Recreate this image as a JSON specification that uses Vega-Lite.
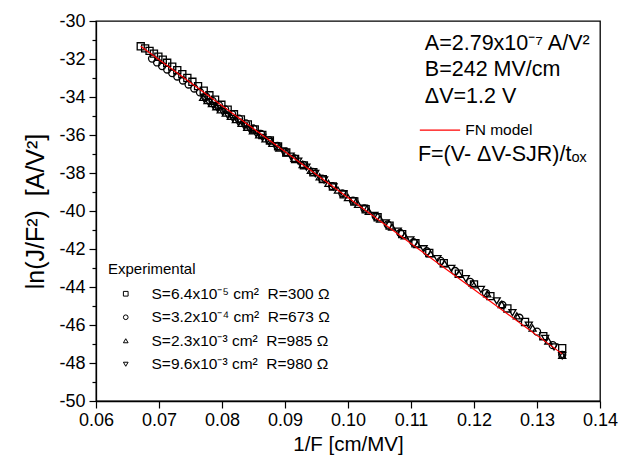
{
  "$schema": "https://vega.github.io/schema/vega-lite/v6.json",
  "width": 504,
  "height": 380,
  "autosize": "none",
  "padding": {"left": 96, "top": 21, "right": 19, "bottom": 56},
  "background": "white",
  "config": {
    "font": "Liberation Sans",
    "view": {"stroke": "black", "strokeWidth": 1.3},
    "axis": {
      "domainColor": "black",
      "domainWidth": 1.3,
      "tickColor": "black",
      "tickWidth": 1.2,
      "grid": false,
      "labelFont": "Liberation Sans",
      "labelFontSize": 18,
      "labelColor": "black",
      "labelOverlap": false,
      "titleFont": "Liberation Sans",
      "titleFontWeight": "normal",
      "titleColor": "black"
    }
  },
  "resolve": {"axis": {"y": "independent"}},
  "datasets": {
    "meas": [
      {"x": 0.0671, "y": -31.33, "s": "S=6.4x10⁻⁵ cm² \u00a0R=300 Ω"},
      {"x": 0.0678, "y": -31.44, "s": "S=6.4x10⁻⁵ cm² \u00a0R=300 Ω"},
      {"x": 0.0685, "y": -31.57, "s": "S=6.4x10⁻⁵ cm² \u00a0R=300 Ω"},
      {"x": 0.0692, "y": -31.72, "s": "S=6.4x10⁻⁵ cm² \u00a0R=300 Ω"},
      {"x": 0.0699, "y": -31.88, "s": "S=6.4x10⁻⁵ cm² \u00a0R=300 Ω"},
      {"x": 0.0706, "y": -32.04, "s": "S=6.4x10⁻⁵ cm² \u00a0R=300 Ω"},
      {"x": 0.0713, "y": -32.20, "s": "S=6.4x10⁻⁵ cm² \u00a0R=300 Ω"},
      {"x": 0.0721, "y": -32.40, "s": "S=6.4x10⁻⁵ cm² \u00a0R=300 Ω"},
      {"x": 0.0729, "y": -32.59, "s": "S=6.4x10⁻⁵ cm² \u00a0R=300 Ω"},
      {"x": 0.0737, "y": -32.80, "s": "S=6.4x10⁻⁵ cm² \u00a0R=300 Ω"},
      {"x": 0.0745, "y": -33.00, "s": "S=6.4x10⁻⁵ cm² \u00a0R=300 Ω"},
      {"x": 0.0753, "y": -33.20, "s": "S=6.4x10⁻⁵ cm² \u00a0R=300 Ω"},
      {"x": 0.0762, "y": -33.43, "s": "S=6.4x10⁻⁵ cm² \u00a0R=300 Ω"},
      {"x": 0.0771, "y": -33.67, "s": "S=6.4x10⁻⁵ cm² \u00a0R=300 Ω"},
      {"x": 0.0780, "y": -33.91, "s": "S=6.4x10⁻⁵ cm² \u00a0R=300 Ω"},
      {"x": 0.0789, "y": -34.14, "s": "S=6.4x10⁻⁵ cm² \u00a0R=300 Ω"},
      {"x": 0.0799, "y": -34.41, "s": "S=6.4x10⁻⁵ cm² \u00a0R=300 Ω"},
      {"x": 0.0809, "y": -34.67, "s": "S=6.4x10⁻⁵ cm² \u00a0R=300 Ω"},
      {"x": 0.0819, "y": -34.91, "s": "S=6.4x10⁻⁵ cm² \u00a0R=300 Ω"},
      {"x": 0.0830, "y": -35.18, "s": "S=6.4x10⁻⁵ cm² \u00a0R=300 Ω"},
      {"x": 0.0841, "y": -35.44, "s": "S=6.4x10⁻⁵ cm² \u00a0R=300 Ω"},
      {"x": 0.0852, "y": -35.71, "s": "S=6.4x10⁻⁵ cm² \u00a0R=300 Ω"},
      {"x": 0.0864, "y": -36.00, "s": "S=6.4x10⁻⁵ cm² \u00a0R=300 Ω"},
      {"x": 0.0876, "y": -36.29, "s": "S=6.4x10⁻⁵ cm² \u00a0R=300 Ω"},
      {"x": 0.0889, "y": -36.60, "s": "S=6.4x10⁻⁵ cm² \u00a0R=300 Ω"},
      {"x": 0.0902, "y": -36.92, "s": "S=6.4x10⁻⁵ cm² \u00a0R=300 Ω"},
      {"x": 0.0916, "y": -37.26, "s": "S=6.4x10⁻⁵ cm² \u00a0R=300 Ω"},
      {"x": 0.0930, "y": -37.60, "s": "S=6.4x10⁻⁵ cm² \u00a0R=300 Ω"},
      {"x": 0.0945, "y": -37.96, "s": "S=6.4x10⁻⁵ cm² \u00a0R=300 Ω"},
      {"x": 0.0960, "y": -38.32, "s": "S=6.4x10⁻⁵ cm² \u00a0R=300 Ω"},
      {"x": 0.0976, "y": -38.71, "s": "S=6.4x10⁻⁵ cm² \u00a0R=300 Ω"},
      {"x": 0.0993, "y": -39.12, "s": "S=6.4x10⁻⁵ cm² \u00a0R=300 Ω"},
      {"x": 0.1010, "y": -39.50, "s": "S=6.4x10⁻⁵ cm² \u00a0R=300 Ω"},
      {"x": 0.1028, "y": -39.91, "s": "S=6.4x10⁻⁵ cm² \u00a0R=300 Ω"},
      {"x": 0.1047, "y": -40.33, "s": "S=6.4x10⁻⁵ cm² \u00a0R=300 Ω"},
      {"x": 0.1066, "y": -40.77, "s": "S=6.4x10⁻⁵ cm² \u00a0R=300 Ω"},
      {"x": 0.1086, "y": -41.22, "s": "S=6.4x10⁻⁵ cm² \u00a0R=300 Ω"},
      {"x": 0.1107, "y": -41.70, "s": "S=6.4x10⁻⁵ cm² \u00a0R=300 Ω"},
      {"x": 0.1129, "y": -42.21, "s": "S=6.4x10⁻⁵ cm² \u00a0R=300 Ω"},
      {"x": 0.1152, "y": -42.75, "s": "S=6.4x10⁻⁵ cm² \u00a0R=300 Ω"},
      {"x": 0.1176, "y": -43.30, "s": "S=6.4x10⁻⁵ cm² \u00a0R=300 Ω"},
      {"x": 0.1200, "y": -43.86, "s": "S=6.4x10⁻⁵ cm² \u00a0R=300 Ω"},
      {"x": 0.1226, "y": -44.48, "s": "S=6.4x10⁻⁵ cm² \u00a0R=300 Ω"},
      {"x": 0.1253, "y": -45.13, "s": "S=6.4x10⁻⁵ cm² \u00a0R=300 Ω"},
      {"x": 0.1281, "y": -45.84, "s": "S=6.4x10⁻⁵ cm² \u00a0R=300 Ω"},
      {"x": 0.1310, "y": -46.59, "s": "S=6.4x10⁻⁵ cm² \u00a0R=300 Ω"},
      {"x": 0.1340, "y": -47.22, "s": "S=6.4x10⁻⁵ cm² \u00a0R=300 Ω"},

      {"x": 0.0689, "y": -31.98, "s": "S=3.2x10⁻⁴ cm² \u00a0R=673 Ω"},
      {"x": 0.0697, "y": -32.18, "s": "S=3.2x10⁻⁴ cm² \u00a0R=673 Ω"},
      {"x": 0.0705, "y": -32.37, "s": "S=3.2x10⁻⁴ cm² \u00a0R=673 Ω"},
      {"x": 0.0713, "y": -32.55, "s": "S=3.2x10⁻⁴ cm² \u00a0R=673 Ω"},
      {"x": 0.0721, "y": -32.74, "s": "S=3.2x10⁻⁴ cm² \u00a0R=673 Ω"},
      {"x": 0.0729, "y": -32.92, "s": "S=3.2x10⁻⁴ cm² \u00a0R=673 Ω"},
      {"x": 0.0738, "y": -33.13, "s": "S=3.2x10⁻⁴ cm² \u00a0R=673 Ω"},
      {"x": 0.0747, "y": -33.34, "s": "S=3.2x10⁻⁴ cm² \u00a0R=673 Ω"},
      {"x": 0.0756, "y": -33.55, "s": "S=3.2x10⁻⁴ cm² \u00a0R=673 Ω"},
      {"x": 0.0765, "y": -33.75, "s": "S=3.2x10⁻⁴ cm² \u00a0R=673 Ω"},
      {"x": 0.0775, "y": -33.99, "s": "S=3.2x10⁻⁴ cm² \u00a0R=673 Ω"},
      {"x": 0.0785, "y": -34.21, "s": "S=3.2x10⁻⁴ cm² \u00a0R=673 Ω"},
      {"x": 0.0795, "y": -34.43, "s": "S=3.2x10⁻⁴ cm² \u00a0R=673 Ω"},
      {"x": 0.0805, "y": -34.65, "s": "S=3.2x10⁻⁴ cm² \u00a0R=673 Ω"},
      {"x": 0.0816, "y": -34.90, "s": "S=3.2x10⁻⁴ cm² \u00a0R=673 Ω"},
      {"x": 0.0827, "y": -35.14, "s": "S=3.2x10⁻⁴ cm² \u00a0R=673 Ω"},
      {"x": 0.0838, "y": -35.39, "s": "S=3.2x10⁻⁴ cm² \u00a0R=673 Ω"},
      {"x": 0.0850, "y": -35.66, "s": "S=3.2x10⁻⁴ cm² \u00a0R=673 Ω"},
      {"x": 0.0862, "y": -35.95, "s": "S=3.2x10⁻⁴ cm² \u00a0R=673 Ω"},
      {"x": 0.0875, "y": -36.27, "s": "S=3.2x10⁻⁴ cm² \u00a0R=673 Ω"},
      {"x": 0.0888, "y": -36.58, "s": "S=3.2x10⁻⁴ cm² \u00a0R=673 Ω"},
      {"x": 0.0901, "y": -36.89, "s": "S=3.2x10⁻⁴ cm² \u00a0R=673 Ω"},
      {"x": 0.0915, "y": -37.23, "s": "S=3.2x10⁻⁴ cm² \u00a0R=673 Ω"},
      {"x": 0.0929, "y": -37.57, "s": "S=3.2x10⁻⁴ cm² \u00a0R=673 Ω"},
      {"x": 0.0944, "y": -37.94, "s": "S=3.2x10⁻⁴ cm² \u00a0R=673 Ω"},
      {"x": 0.0959, "y": -38.30, "s": "S=3.2x10⁻⁴ cm² \u00a0R=673 Ω"},
      {"x": 0.0975, "y": -38.69, "s": "S=3.2x10⁻⁴ cm² \u00a0R=673 Ω"},
      {"x": 0.0991, "y": -39.07, "s": "S=3.2x10⁻⁴ cm² \u00a0R=673 Ω"},
      {"x": 0.1008, "y": -39.46, "s": "S=3.2x10⁻⁴ cm² \u00a0R=673 Ω"},
      {"x": 0.1026, "y": -39.87, "s": "S=3.2x10⁻⁴ cm² \u00a0R=673 Ω"},
      {"x": 0.1044, "y": -40.28, "s": "S=3.2x10⁻⁴ cm² \u00a0R=673 Ω"},
      {"x": 0.1063, "y": -40.71, "s": "S=3.2x10⁻⁴ cm² \u00a0R=673 Ω"},
      {"x": 0.1083, "y": -41.16, "s": "S=3.2x10⁻⁴ cm² \u00a0R=673 Ω"},
      {"x": 0.1104, "y": -41.64, "s": "S=3.2x10⁻⁴ cm² \u00a0R=673 Ω"},
      {"x": 0.1125, "y": -42.12, "s": "S=3.2x10⁻⁴ cm² \u00a0R=673 Ω"},
      {"x": 0.1147, "y": -42.63, "s": "S=3.2x10⁻⁴ cm² \u00a0R=673 Ω"},
      {"x": 0.1170, "y": -43.16, "s": "S=3.2x10⁻⁴ cm² \u00a0R=673 Ω"},
      {"x": 0.1194, "y": -43.73, "s": "S=3.2x10⁻⁴ cm² \u00a0R=673 Ω"},
      {"x": 0.1219, "y": -44.32, "s": "S=3.2x10⁻⁴ cm² \u00a0R=673 Ω"},
      {"x": 0.1245, "y": -44.95, "s": "S=3.2x10⁻⁴ cm² \u00a0R=673 Ω"},
      {"x": 0.1272, "y": -45.62, "s": "S=3.2x10⁻⁴ cm² \u00a0R=673 Ω"},
      {"x": 0.1300, "y": -46.35, "s": "S=3.2x10⁻⁴ cm² \u00a0R=673 Ω"},
      {"x": 0.1325, "y": -47.06, "s": "S=3.2x10⁻⁴ cm² \u00a0R=673 Ω"},
      {"x": 0.1340, "y": -47.57, "s": "S=3.2x10⁻⁴ cm² \u00a0R=673 Ω"},

      {"x": 0.0770, "y": -34.02, "s": "S=2.3x10⁻³ cm² \u00a0R=985 Ω"},
      {"x": 0.0777, "y": -34.19, "s": "S=2.3x10⁻³ cm² \u00a0R=985 Ω"},
      {"x": 0.0784, "y": -34.35, "s": "S=2.3x10⁻³ cm² \u00a0R=985 Ω"},
      {"x": 0.0791, "y": -34.51, "s": "S=2.3x10⁻³ cm² \u00a0R=985 Ω"},
      {"x": 0.0798, "y": -34.67, "s": "S=2.3x10⁻³ cm² \u00a0R=985 Ω"},
      {"x": 0.0806, "y": -34.85, "s": "S=2.3x10⁻³ cm² \u00a0R=985 Ω"},
      {"x": 0.0814, "y": -35.02, "s": "S=2.3x10⁻³ cm² \u00a0R=985 Ω"},
      {"x": 0.0822, "y": -35.19, "s": "S=2.3x10⁻³ cm² \u00a0R=985 Ω"},
      {"x": 0.0831, "y": -35.39, "s": "S=2.3x10⁻³ cm² \u00a0R=985 Ω"},
      {"x": 0.0840, "y": -35.59, "s": "S=2.3x10⁻³ cm² \u00a0R=985 Ω"},
      {"x": 0.0849, "y": -35.78, "s": "S=2.3x10⁻³ cm² \u00a0R=985 Ω"},
      {"x": 0.0859, "y": -35.99, "s": "S=2.3x10⁻³ cm² \u00a0R=985 Ω"},
      {"x": 0.0869, "y": -36.20, "s": "S=2.3x10⁻³ cm² \u00a0R=985 Ω"},
      {"x": 0.0880, "y": -36.44, "s": "S=2.3x10⁻³ cm² \u00a0R=985 Ω"},
      {"x": 0.0891, "y": -36.68, "s": "S=2.3x10⁻³ cm² \u00a0R=985 Ω"},
      {"x": 0.0903, "y": -36.94, "s": "S=2.3x10⁻³ cm² \u00a0R=985 Ω"},
      {"x": 0.0915, "y": -37.23, "s": "S=2.3x10⁻³ cm² \u00a0R=985 Ω"},
      {"x": 0.0928, "y": -37.55, "s": "S=2.3x10⁻³ cm² \u00a0R=985 Ω"},
      {"x": 0.0941, "y": -37.86, "s": "S=2.3x10⁻³ cm² \u00a0R=985 Ω"},
      {"x": 0.0955, "y": -38.20, "s": "S=2.3x10⁻³ cm² \u00a0R=985 Ω"},
      {"x": 0.0969, "y": -38.54, "s": "S=2.3x10⁻³ cm² \u00a0R=985 Ω"},
      {"x": 0.0984, "y": -38.90, "s": "S=2.3x10⁻³ cm² \u00a0R=985 Ω"},
      {"x": 0.1000, "y": -39.29, "s": "S=2.3x10⁻³ cm² \u00a0R=985 Ω"},
      {"x": 0.1016, "y": -39.65, "s": "S=2.3x10⁻³ cm² \u00a0R=985 Ω"},
      {"x": 0.1033, "y": -40.02, "s": "S=2.3x10⁻³ cm² \u00a0R=985 Ω"},
      {"x": 0.1051, "y": -40.42, "s": "S=2.3x10⁻³ cm² \u00a0R=985 Ω"},
      {"x": 0.1070, "y": -40.85, "s": "S=2.3x10⁻³ cm² \u00a0R=985 Ω"},
      {"x": 0.1090, "y": -41.31, "s": "S=2.3x10⁻³ cm² \u00a0R=985 Ω"},
      {"x": 0.1110, "y": -41.76, "s": "S=2.3x10⁻³ cm² \u00a0R=985 Ω"},
      {"x": 0.1131, "y": -42.25, "s": "S=2.3x10⁻³ cm² \u00a0R=985 Ω"},
      {"x": 0.1153, "y": -42.76, "s": "S=2.3x10⁻³ cm² \u00a0R=985 Ω"},
      {"x": 0.1176, "y": -43.30, "s": "S=2.3x10⁻³ cm² \u00a0R=985 Ω"},
      {"x": 0.1198, "y": -43.81, "s": "S=2.3x10⁻³ cm² \u00a0R=985 Ω"},
      {"x": 0.1221, "y": -44.36, "s": "S=2.3x10⁻³ cm² \u00a0R=985 Ω"},
      {"x": 0.1244, "y": -44.92, "s": "S=2.3x10⁻³ cm² \u00a0R=985 Ω"},
      {"x": 0.1268, "y": -45.52, "s": "S=2.3x10⁻³ cm² \u00a0R=985 Ω"},
      {"x": 0.1293, "y": -46.16, "s": "S=2.3x10⁻³ cm² \u00a0R=985 Ω"},
      {"x": 0.1318, "y": -46.84, "s": "S=2.3x10⁻³ cm² \u00a0R=985 Ω"},
      {"x": 0.1340, "y": -47.60, "s": "S=2.3x10⁻³ cm² \u00a0R=985 Ω"},

      {"x": 0.0772, "y": -34.12, "s": "S=9.6x10⁻³ cm² \u00a0R=980 Ω"},
      {"x": 0.0779, "y": -34.29, "s": "S=9.6x10⁻³ cm² \u00a0R=980 Ω"},
      {"x": 0.0786, "y": -34.45, "s": "S=9.6x10⁻³ cm² \u00a0R=980 Ω"},
      {"x": 0.0793, "y": -34.61, "s": "S=9.6x10⁻³ cm² \u00a0R=980 Ω"},
      {"x": 0.0801, "y": -34.78, "s": "S=9.6x10⁻³ cm² \u00a0R=980 Ω"},
      {"x": 0.0809, "y": -34.96, "s": "S=9.6x10⁻³ cm² \u00a0R=980 Ω"},
      {"x": 0.0817, "y": -35.13, "s": "S=9.6x10⁻³ cm² \u00a0R=980 Ω"},
      {"x": 0.0826, "y": -35.33, "s": "S=9.6x10⁻³ cm² \u00a0R=980 Ω"},
      {"x": 0.0835, "y": -35.52, "s": "S=9.6x10⁻³ cm² \u00a0R=980 Ω"},
      {"x": 0.0844, "y": -35.71, "s": "S=9.6x10⁻³ cm² \u00a0R=980 Ω"},
      {"x": 0.0854, "y": -35.92, "s": "S=9.6x10⁻³ cm² \u00a0R=980 Ω"},
      {"x": 0.0864, "y": -36.13, "s": "S=9.6x10⁻³ cm² \u00a0R=980 Ω"},
      {"x": 0.0874, "y": -36.34, "s": "S=9.6x10⁻³ cm² \u00a0R=980 Ω"},
      {"x": 0.0885, "y": -36.58, "s": "S=9.6x10⁻³ cm² \u00a0R=980 Ω"},
      {"x": 0.0897, "y": -36.84, "s": "S=9.6x10⁻³ cm² \u00a0R=980 Ω"},
      {"x": 0.0909, "y": -37.11, "s": "S=9.6x10⁻³ cm² \u00a0R=980 Ω"},
      {"x": 0.0921, "y": -37.38, "s": "S=9.6x10⁻³ cm² \u00a0R=980 Ω"},
      {"x": 0.0934, "y": -37.69, "s": "S=9.6x10⁻³ cm² \u00a0R=980 Ω"},
      {"x": 0.0948, "y": -38.03, "s": "S=9.6x10⁻³ cm² \u00a0R=980 Ω"},
      {"x": 0.0962, "y": -38.37, "s": "S=9.6x10⁻³ cm² \u00a0R=980 Ω"},
      {"x": 0.0977, "y": -38.73, "s": "S=9.6x10⁻³ cm² \u00a0R=980 Ω"},
      {"x": 0.0992, "y": -39.10, "s": "S=9.6x10⁻³ cm² \u00a0R=980 Ω"},
      {"x": 0.1008, "y": -39.46, "s": "S=9.6x10⁻³ cm² \u00a0R=980 Ω"},
      {"x": 0.1025, "y": -39.85, "s": "S=9.6x10⁻³ cm² \u00a0R=980 Ω"},
      {"x": 0.1042, "y": -40.23, "s": "S=9.6x10⁻³ cm² \u00a0R=980 Ω"},
      {"x": 0.1060, "y": -40.63, "s": "S=9.6x10⁻³ cm² \u00a0R=980 Ω"},
      {"x": 0.1079, "y": -41.06, "s": "S=9.6x10⁻³ cm² \u00a0R=980 Ω"},
      {"x": 0.1099, "y": -41.52, "s": "S=9.6x10⁻³ cm² \u00a0R=980 Ω"},
      {"x": 0.1120, "y": -41.99, "s": "S=9.6x10⁻³ cm² \u00a0R=980 Ω"},
      {"x": 0.1142, "y": -42.51, "s": "S=9.6x10⁻³ cm² \u00a0R=980 Ω"},
      {"x": 0.1164, "y": -43.02, "s": "S=9.6x10⁻³ cm² \u00a0R=980 Ω"},
      {"x": 0.1187, "y": -43.56, "s": "S=9.6x10⁻³ cm² \u00a0R=980 Ω"},
      {"x": 0.1211, "y": -44.13, "s": "S=9.6x10⁻³ cm² \u00a0R=980 Ω"},
      {"x": 0.1236, "y": -44.73, "s": "S=9.6x10⁻³ cm² \u00a0R=980 Ω"},
      {"x": 0.1261, "y": -45.35, "s": "S=9.6x10⁻³ cm² \u00a0R=980 Ω"},
      {"x": 0.1287, "y": -46.01, "s": "S=9.6x10⁻³ cm² \u00a0R=980 Ω"},
      {"x": 0.1313, "y": -46.71, "s": "S=9.6x10⁻³ cm² \u00a0R=980 Ω"},
      {"x": 0.1327, "y": -47.15, "s": "S=9.6x10⁻³ cm² \u00a0R=980 Ω"},
      {"x": 0.1340, "y": -47.62, "s": "S=9.6x10⁻³ cm² \u00a0R=980 Ω"}
    ],
    "fn": [
      {"x": 0.0671, "y": -31.33},
      {"x": 0.1340, "y": -47.52}
    ],
    "fnkey": [
      {"x": 0.1114, "x2": 0.1178, "y": -35.74}
    ],
    "bigtext": [
      {"x": 0.1122, "y": -31.2, "t": "A=2.79x10⁻⁷ A/V²"},
      {"x": 0.1122, "y": -32.58, "t": "B=242 MV/cm"},
      {"x": 0.1122, "y": -34.0, "t": "ΔV=1.2 V"},
      {"x": 0.1111, "y": -37.05, "t": "F=(V- ΔV-SJR)/tₒₓ"}
    ],
    "smalltext": [
      {"x": 0.1186, "y": -35.74, "t": "FN model"}
    ]
  },
  "layer": [
    {
      "data": {"name": "fnkey"},
      "mark": {"type": "rule", "color": "#ff0000", "strokeWidth": 1.2},
      "encoding": {
        "x": {"field": "x", "type": "quantitative"},
        "x2": {"field": "x2"},
        "y": {
          "field": "y", "type": "quantitative",
          "axis": {
            "orient": "left",
            "title": null,
            "values": [-49, -47, -45, -43, -41, -39, -37, -35, -33, -31],
            "labels": false,
            "domain": false,
            "tickSize": 4
          }
        }
      }
    },
    {
      "data": {"name": "meas"},
      "mark": {"type": "point", "filled": false, "stroke": "black", "strokeWidth": 1.3, "size": 50, "opacity": 1},
      "encoding": {
        "x": {
          "field": "x", "type": "quantitative",
          "scale": {"domain": [0.06, 0.14], "nice": false, "zero": false},
          "axis": {
            "title": "1/F [cm/MV]",
            "titleFontSize": 20.5,
            "values": [0.06, 0.065, 0.07, 0.075, 0.08, 0.085, 0.09, 0.095, 0.1, 0.105, 0.11, 0.115, 0.12, 0.125, 0.13, 0.135, 0.14],
            "labelExpr": "abs(round(datum.value*200)) % 2 === 0 ? format(datum.value, '.2f') : ''",
            "tickSize": {"condition": {"test": "abs(round(datum.value*200)) % 2 === 0", "value": 7}, "value": 4},
            "labelPadding": 3,
            "titlePadding": 5,
            "labelOverlap": false,
            "labelFlush": false
          }
        },
        "y": {
          "field": "y", "type": "quantitative",
          "scale": {"domain": [-50, -30], "nice": false, "zero": false},
          "axis": {
            "orient": "left",
            "title": "ln(J/F²) \u00a0[A/V²]",
            "titleFontSize": 25,
            "values": [-50, -48, -46, -44, -42, -40, -38, -36, -34, -32, -30],
            "labelExpr": "replace(datum.label, '−', '-')",
            "tickSize": 7,
            "labelPadding": 4,
            "titlePadding": 10,
            "labelOverlap": false,
            "labelFlush": false
          }
        },
        "shape": {
          "field": "s", "type": "nominal",
          "scale": {
            "domain": ["S=6.4x10⁻⁵ cm² \u00a0R=300 Ω", "S=3.2x10⁻⁴ cm² \u00a0R=673 Ω", "S=2.3x10⁻³ cm² \u00a0R=985 Ω", "S=9.6x10⁻³ cm² \u00a0R=980 Ω"],
            "range": ["square", "circle", "triangle-up", "triangle-down"]
          },
          "legend": {
            "title": "Experimental",
            "orient": "none",
            "legendX": 12,
            "legendY": 241,
            "padding": 0,
            "titleFont": "Liberation Sans",
            "titleFontSize": 15,
            "titleFontWeight": "normal",
            "titleColor": "black",
            "titlePadding": 9,
            "labelFont": "Liberation Sans",
            "labelFontSize": 15.5,
            "labelColor": "black",
            "labelLimit": 0,
            "labelOffset": 18,
            "symbolSize": 22,
            "symbolStrokeColor": "black",
            "symbolStrokeWidth": 1,
            "symbolFillColor": "transparent",
            "symbolOffset": 10,
            "rowPadding": 6.5
          }
        }
      }
    },
    {
      "data": {"name": "fn"},
      "mark": {"type": "line", "color": "#ff0000", "strokeWidth": 1.2},
      "encoding": {
        "x": {"field": "x", "type": "quantitative"},
        "y": {"field": "y", "type": "quantitative", "axis": null}
      }
    },
    {
      "data": {"name": "bigtext"},
      "mark": {"type": "text", "align": "left", "baseline": "middle", "fontSize": 21.5, "font": "Liberation Sans", "color": "black"},
      "encoding": {
        "x": {"field": "x", "type": "quantitative"},
        "y": {"field": "y", "type": "quantitative", "axis": null},
        "text": {"field": "t"}
      }
    },
    {
      "data": {"name": "smalltext"},
      "mark": {"type": "text", "align": "left", "baseline": "middle", "fontSize": 15.5, "font": "Liberation Sans", "color": "black"},
      "encoding": {
        "x": {"field": "x", "type": "quantitative"},
        "y": {"field": "y", "type": "quantitative", "axis": null},
        "text": {"field": "t"}
      }
    }
  ]
}
